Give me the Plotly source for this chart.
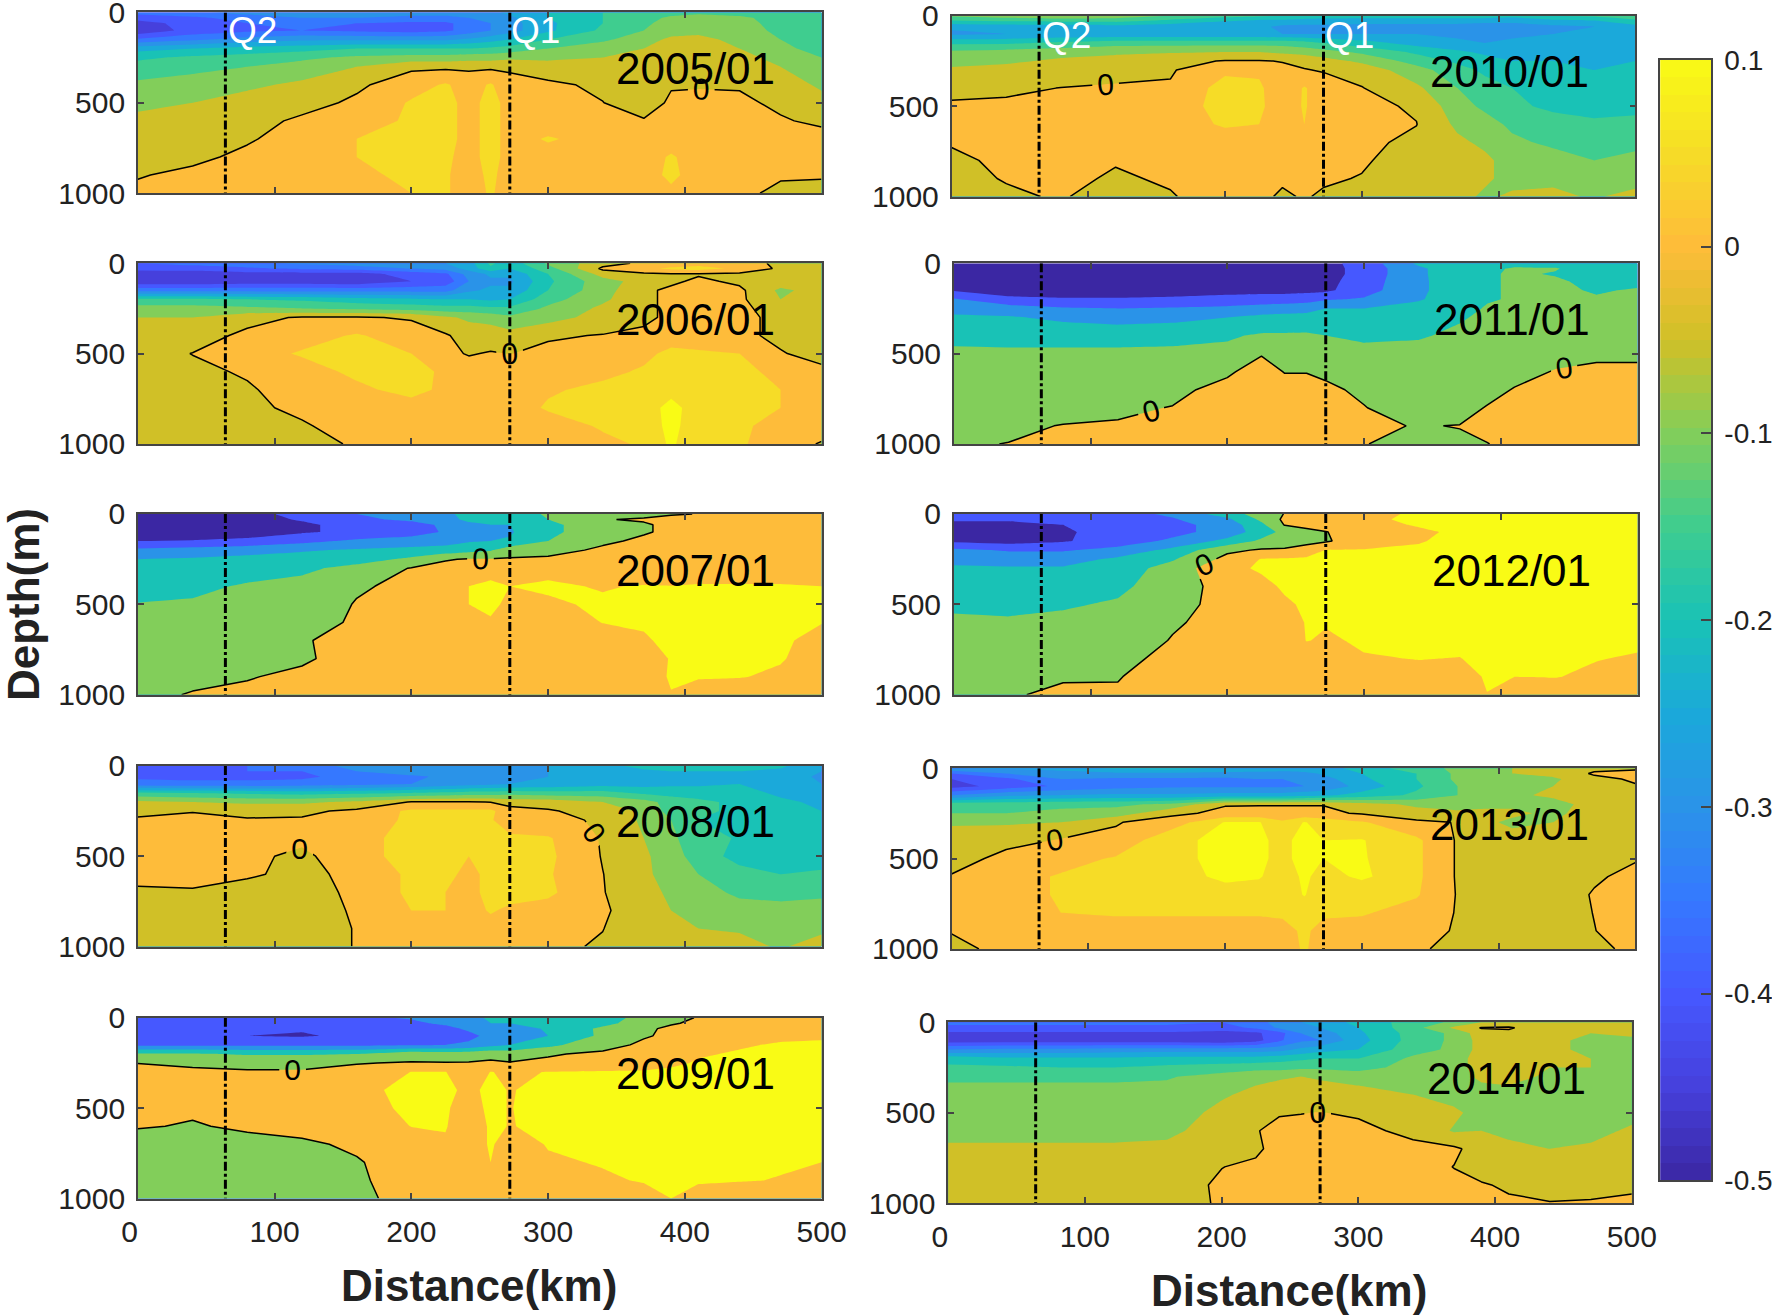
import numpy as np
import plotly.graph_objects as go

# section grid, km along section and depth in m
dist = [0, 40, 80, 120, 160, 200, 225, 242, 258, 272, 300, 340, 370, 390, 410, 440, 470, 500]
depth = [0, 30, 60, 100, 150, 200, 250, 300, 400, 500, 600, 700, 800, 900, 1000]

Q2_DIST = 64
Q1_DIST = 272

# anomalies, in hundredths
z_2005 = [
    [-33,-31,-28,-26,-26,-27,-27,-27,-26,-24,-20,-15,-13,-12,-11,-12,-13,-14],
    [-38,-36,-33,-30,-30,-32,-32,-30,-28,-26,-20,-15,-12,-9,-8,-9,-12,-14],
    [-42,-38,-35,-34,-35,-36,-36,-33,-30,-27,-21,-15,-11,-8,-7,-8,-12,-14],
    [-44,-38,-36,-35,-36,-37,-36,-33,-30,-27,-21,-14,-10,-7,-6,-8,-11,-14],
    [-34,-31,-28,-26,-26,-26,-26,-24,-22,-20,-15,-11,-7,-4,-4,-6,-10,-14],
    [-22,-20,-18,-17,-15,-15,-15,-15,-14,-13,-10,-7,-5,-3,-3,-5,-8,-13],
    [-16,-14,-13,-11,-9,-8,-8,-7,-7,-6,-6,-5,-4,-3,-3,-4,-6,-10],
    [-13,-12,-10,-8,-5,-1,-1,-1,-1,-1,-3,-4,-3,-3,-3,-3,-5,-8],
    [-9,-7,-6,-4,-1,3,5.5,3,5.5,2,1,-1,-2,-.5,-.3,-.5,-2,-6],
    [-6,-5,-3,-2,1,5.5,7,3,7,3,2,.1,-3,1,1,1,-1,-3],
    [-4,-3,-2,1,2,6,7,3,7,3,2,2,.5,2,2,2,.5,-1],
    [-3,-2,-.5,2,5,7,7,3,7,3,5.5,3,3,3,3,3,3,2],
    [-2,-1,1,3,5,7,6,3,7,3,3,3,3,5.5,3,4,3,2],
    [-.3,1,2,3,4,6,5.5,3,6,3,3,3,3,6,3,3,.5,.3],
    [1,2,2,3,3,5,5.5,3,5.5,3,3,3,3,4,3,1,-1,-1],
]
z_2006 = [
    [-35,-33,-31,-29,-27,-26,-25,-22,-14,-18,-9,-2,1,2,3,2,-1,-2],
    [-38,-38,-36,-34,-33,-30,-28,-23,-16,-20,-12,1,4,6,7,4,-1,-2],
    [-44,-43,-42,-42,-42,-38,-36,-28,-24,-24,-15,-3,-1,-.5,-.5,-1,-2,-2],
    [-44,-44,-43,-43,-44,-40,-38,-30,-26,-26,-16,-7,-3,-1,1,-1,-2,-2],
    [-32,-32,-32,-32,-32,-32,-32,-26,-24,-24,-15,-7,-1,1,2,1,-6,-3],
    [-14,-14,-15,-16,-18,-19,-20,-20,-21,-20,-12,-6,-1,1,2,1,-5,-2],
    [-8,-8,-9,-10,-11,-12,-13,-13,-14,-14,-9,-4,-1,1,3,1,-2,-1],
    [-5,-5,-1.5,.5,.5,-.5,-4,-6,-7,-9,-7,-3,-1,1,3,1,-1,-1],
    [-3,-2,1,3,5.5,2.5,.5,-2,-2,-3,-.5,.2,1,3,3,1,-1,-1],
    [-2,.1,3,5.5,7,5,1,-.3,.3,-.1,1,3,4,6,5.5,5,.3,-1.5],
    [-2,-1,.5,3,6,7,4,2,3,3,3,4,5.5,7,6,6,4,1],
    [-2,-2,-.5,2,4,6.5,4,3,3,3,4.5,6,7,8,7,6,5,3],
    [-2,-2,-1,1,3,3,3,3,3,3,5.5,6,7,12,7,6,5,3],
    [-2,-2,-1.5,-.5,2,3,3,3,3,3,3,5.5,6,12,6,6,3,3],
    [-2,-2,-2,-1.5,.5,3,3,3,3,3,3,4,5.5,11,5.5,5.5,3,-.5],
]
z_2007 = [
    [-46,-45,-42,-38,-30,-25,-22,-17,-15,-14,-9,-5,-3,-1,.3,1,2,2],
    [-48,-46,-44,-39,-32,-28,-23,-18,-17,-16,-10,-.5,1,3,3,3,3,3],
    [-50,-48,-46,-42,-36,-34,-28,-22,-20,-20,-12,-5,-1,2,3,3,3,3],
    [-50,-50,-46,-41,-38,-34,-29,-24,-22,-21,-12,-5,-.5,1,3,3,3,3],
    [-40,-39,-37,-33,-28,-26,-24,-21,-20,-19,-10,-1,1,2,3,3,3,3],
    [-28,-26,-24,-21,-19,-17,-16,-13,-11,-4,-2,1,2,3,3,3,3,3],
    [-20,-19,-17,-16,-14,-8,-.5,.5,.5,.8,1,2,2,3,3,3,3,3],
    [-18,-16,-14,-12,-7,.5,2,3,8,3,8,3,3,3,3,3,3,3],
    [-15,-12,-9,-7,-1,2,4,10,11,10,11,9.5,10.5,10.2,11,11,11,10],
    [-9.5,-9,-7,-5,.5,3,4,10,11,9,9,11,11,11,11,11,11,11],
    [-8,-7,-5,-3,1,3,3,3,9.5,3,3,10.3,10.5,12,12,12,12,10.2],
    [-6,-5,-3,-.5,2,3,3,3,3,3,3,3,9.5,11,12,11.5,11,8],
    [-5,-4,-2,-.7,2,3,3,3,3,3,3,3,6,10.5,12,11,10.5,7],
    [-4,-2,-.3,1,2,3,3,3,3,3,3,3,5,11,10.5,10.3,9,5],
    [-2,.5,1,2,3,3,3,3,3,3,3,3,3,9.6,7,6,5,5],
]
z_2008 = [
    [-36,-36,-35,-33,-28,-27,-27,-27,-26,-26,-25,-22,-18,-20,-19,-20,-19,-25],
    [-36,-36,-35,-35,-30,-27,-27,-27,-26,-26,-25,-22,-21,-20,-20,-20,-21,-25],
    [-36,-36,-36,-36,-33,-31,-29,-28,-27,-26,-25,-23,-21,-23,-24,-22,-22,-26],
    [-33,-34,-34,-33,-32,-30,-28,-27,-26,-25,-24,-22,-22,-21,-21,-20,-22,-25],
    [-14,-15,-16,-17,-16,-15,-14,-13,-13,-12,-13,-13,-16,-17,-17,-18,-21,-23],
    [-4,-5,-6,-6,-4,.3,.3,.3,-.1,-2,-2,-5,-8,-12,-14,-16,-19,-21],
    [-1,-.2,-1,-1,1,6,6,6,6,2,.5,-2,-6,-12,-14,-16,-18,-20],
    [.5,1,.3,.5,2,6,6,5,5.5,2,1,-.5,-6,-10,-15,-16,-18,-20],
    [2,3,3,1,3,7,7,6,6,6,5.5,-.5,-5,-9,-13,-15.5,-18,-20],
    [2,2,1,-1,3,7,7,5,7,7,6,-.3,-4,-8,-12,-17,-17,-18],
    [1,1,.5,-1,1,6,6,4,6,7,5.5,.1,-4,-7,-10,-13,-15,-14],
    [-.5,-.3,-1.5,-2,1,6,5,4,6,7,6,.2,-3,-6,-8,-11,-12,-11],
    [-2,-2,-2,-2,.5,5,5,3,5.5,4,3,.5,-2,-5,-6,-8,-8,-8],
    [-2,-2,-2,-2,.2,3,3,3,3,3,2,.1,-3,-5,-5,-5.5,-7,-6],
    [-2,-2,-2,-2,.2,3,3,3,3,3,1,-.5,-2,-4.5,-3.5,-3.5,-5.5,-3],
]
z_2009 = [
    [-36,-36,-36,-36,-32,-29,-26,-22,-19,-19,-17,-14,-7,-1.5,.3,1,1,1],
    [-37,-37,-37,-38,-36,-32,-28,-24,-20,-20,-18,-13,-5,-.5,1,4,5,6],
    [-37,-37,-38,-39,-37,-36,-33,-28,-24,-24,-19,-8,-1,1,4,6,7,8],
    [-37,-37,-40,-41,-38,-37,-35,-33,-27,-24,-20,-8,-.5,1,5,9,9,9],
    [-32,-32,-32,-32,-32,-31,-30,-28,-23,-20,-13,-2,1,3,9,9.5,10.5,11],
    [-9,-9,-11,-11,-10,-3,-5,-4,-2,-4,-.5,1,3,5,9.5,10.5,11,11],
    [-.1,-2,-3,-3,-.3,.5,.5,.5,1,.5,1,2,5,9,10.5,11,11,11],
    [2,2,1,1,2,10.2,10.2,5,10.2,9,10.2,11,11,11,11,11,11,11],
    [3,3,3,3,9,11,11,9,11,9.8,11,11,11,11,11,11,11,11],
    [3,1,3,3,8,11,10.5,8,11,9.8,12,12,12,12,12,12,12,12],
    [.5,-.5,1,2,3,10.2,10.5,5,11,9.8,11,12,12,12,12,12,12,12],
    [-3,-4,-2,-1,1,5,9,5,11,6,10.5,11.5,12,12,12,12,12,12],
    [-3,-4,-3,-2,-.5,3,3,3,10,3,9,10.5,11,11,12,11.5,10.5,10],
    [-3,-4,-3,-3,-1,3,3,3,3,3,6,9,10.5,10.5,10.5,10.3,9.8,6],
    [-3,-4,-3,-3,-2,3,3,3,3,3,3,5,7,10,8,6,6,3],
]
z_2010 = [
    [-9,-7,-6,-7,-10,-13,-14,-15,-16,-17,-17,-17,-17,-17,-18,-15,-14,-13],
    [-16,-15,-14,-14,-17,-20,-22,-22,-23,-23,-24,-24,-24,-24,-24,-22,-21,-16],
    [-24,-23,-23,-22,-23,-24,-24,-26,-26,-26,-26,-26,-26,-27,-27,-26,-25,-22],
    [-26,-25,-24,-24,-24,-24,-24,-25,-25,-25,-25,-25,-26,-27,-26,-25,-25,-23],
    [-16,-16,-14,-12,-12,-12,-12,-12,-13,-15,-18,-22,-24,-25,-24,-24,-25,-23],
    [-9,-8,-7,-6,-5.5,-5,-5,-6,-7,-8,-11,-16,-19,-21,-22,-22,-23,-22],
    [-7,-6,-4,-3,-1.5,.3,.3,-.2,-1,-3,-6,-12,-16,-18,-20,-20,-21,-20],
    [-4,-3,-3,-1.5,-.5,4,4,1,.2,-.3,-2,-8,-13,-16,-18,-20,-20,-19],
    [-1,-1,.1,.5,.5,7,6,1,5.5,2,.2,-4,-10,-13,-15,-17,-18,-17],
    [.5,1,1,1,2,7,6,2,5.5,2,1,-.5,-8,-11,-14,-16,-17,-16],
    [.5,1,1,2,3,5.5,5,2,5,2,1,.1,-6,-8,-11,-13,-14,-14],
    [.2,1,1,1,2,3,3,2,2,2,1,-1,-4,-6,-9,-11,-12,-11],
    [-.5,.5,1,.3,1,2,2,2,2,2,.5,-2,-4,-4,-7,-8,-10,-9],
    [-1,.2,1,-.5,.5,2,2,.5,.5,.5,-.2,-2,-3,-4.5,-6,-6,-6,-7],
    [-2,-.5,.3,-1.5,-.3,2,.8,-.5,.3,-.5,-1,-2,-4,-5.5,-4.5,-4,-5.5,-3.5],
]
z_2011 = [
    [-45,-45,-45,-45,-45,-45,-45,-45,-45,-43,-36,-18,-15,-14,-13,-13,-17,-17],
    [-46,-46,-46,-46,-46,-46,-46,-46,-46,-44,-36,-22,-13,-12,-9,-9.5,-14,-16],
    [-46,-46,-46,-46,-46,-46,-46,-46,-45,-44,-36,-22,-13,-11,-9,-10.5,-12,-15],
    [-46,-46,-46,-46,-46,-46,-46,-46,-45,-43,-35,-22,-14,-11,-9,-9,-12,-13],
    [-41,-44,-45,-45,-45,-44,-44,-44,-43,-42,-34,-22,-14,-11,-9,-8,-11,-9],
    [-29,-38,-39,-39,-38,-36,-34,-34,-33,-31,-29,-21,-14,-11,-9,-8,-9,-9],
    [-22,-25,-29,-30,-29,-28,-27,-26,-25,-20,-20,-16,-14,-9,-8,-8,-8,-8],
    [-19,-19,-22,-24,-23,-20,-17,-16,-15,-15,-16,-15,-11,-8,-8,-8,-8,-8],
    [-13,-14,-14,-14,-13,-11,-9,-9,-9,-10,-12,-11,-8,-8,-8,-8,-8,-8],
    [-8,-8,-8,-8,-8,-8,-.5,-7,-6,-7,-7,-7,-7,-7,-7,-3,-.5,-.5],
    [-7,-7,-6,-5,-4,-1,3,-.3,-.3,-1,-4,-5,-5,-4,-3,.5,.5,.5],
    [-6,-6,-5,-3,-1.5,2,4,3,3,1,-1,-4,-4,-3,.5,2,2,2],
    [-5,-5,-2,-1,.2,3,4,3,3,3,.2,-3,-3,.5,2,2,2,2],
    [-2,-1,.2,.5,2,3,3,3,3,3,1,-.3,.2,1,2,2,2,2],
    [-.5,.1,2,3,3,3,3,3,3,3,.1,-1,-1,-.1,1,2,2,2],
]
z_2012 = [
    [-35,-35,-35,-34,-28,-15,-5,.3,2,5,8,11,12,12,12,12,12,12],
    [-38,-38,-38,-36,-31,-22,-8,2,4,6,9,11,12,12,12,12,12,12],
    [-44,-44,-40,-36,-33,-26,-12,.5,1,2,8,10.5,12,12,12,12,12,12],
    [-46,-46,-41,-37,-33,-26,-15,-7,-1,-.2,3,9,11,12,12,12,12,12],
    [-42,-44,-41,-35,-28,-17,-8,-4,-2,-1,5,9.5,12,12,12,12,12,12],
    [-28,-31,-31,-27,-17,-2,1,1,3,10.2,10.5,11,12,12,12,12,12,12],
    [-22,-24,-24,-18,-11,3,10.5,11,12,12,12,12,12,12,12,12,12,12],
    [-19,-19,-19,-15,-6,8,11,12,12,12,12,12,12,12,12,12,12,12],
    [-15,-14,-14,-12,-5,4,8,11,12,12,12,12,12,12,12,12,12,12],
    [-11,-12,-11,-9,-3,3,6,9,11,11,12,12,12,12,12,12,12,12],
    [-9,-9,-8,-6,-1,3,3,6,10.5,10.5,12,12,12,12,12,12,12,12],
    [-7,-7,-6,-5,.5,3,3,3,10.3,9,11,12,12,12,12,12,12,11],
    [-6,-5,-4,-2,2,3,3,3,5,5,9.5,10.2,9.8,12,12,12,10.2,9.5],
    [-4,-3,-.5,-.3,3,3,3,3,3,3,5,8,8,10.5,10,10.2,9,8],
    [-3,-.5,1,.7,3,3,3,3,3,3,3,5,6,9.9,7,7,6,6],
]
z_2013 = [
    [-25,-24,-22,-19,-18,-20,-21,-21,-20,-22,-18,-12,-9,-6,-5,-3,-1,-.5],
    [-35,-30,-28,-26,-26,-27,-27,-28,-27,-24,-20,-15,-9,-5.5,-5,-3,.5,1],
    [-40,-36,-30,-31,-31,-31,-30,-30,-30,-27,-21,-15,-9,-7,-6,-6,-1,.5],
    [-42,-38,-34,-32,-31,-31,-31,-31,-30,-29,-23,-16,-10,-8,-7,-5,-2,-.3],
    [-30,-26,-25,-24,-24,-23,-23,-23,-22,-21,-18,-14,-10,-7,-6,-4,-2,-.5],
    [-12,-12,-11,-11,-9,-.3,-.2,-.2,-.2,-.2,-3,-6,-7,-6,-6,-7,-3,-2],
    [-10,-10,-9,-8,-1,1,1,1,1,1,-.5,-3,-4,-4,-4,-6,-3,-2],
    [-5.5,-5.5,-5,-.3,2,10.3,10.3,6,10.3,8,5.5,1,-.2,-4,-6,-5,-2,-1],
    [-3,-2,.5,1,9,11,11,8.5,12,10,10.3,6,-.5,-3,-3,-3,-2,-2],
    [-3,2,3,5.5,9,11,11,8.5,12,10,10.5,6,-.5,-3,-3,-3,-2,-.3],
    [.5,3,5.5,6,8,11,10.5,7,11,8,11,6,-.5,-2,-2,-2,-.5,1],
    [2,3,5.5,6,6,8,7,7,10.3,7,6,5.5,-.3,-2,-2,-2,.3,2],
    [.5,3,5,5.5,5.5,5.5,5.5,6,7,6,5.5,3,-.3,-2,-2,-2,.1,2],
    [.2,2,3,3,3,3,3,3,6,3,3,2,-.5,-2,-2,-2,-.1,2],
    [-1,1,3,3,3,3,3,3,5.5,3,3,.5,-1,-2,-2,-2,-1,1],
]
z_2014 = [
    [-34,-34,-34,-34,-34,-35,-33,-27,-25,-24,-18,-13,-9,-5,-3,-1,-3,-1],
    [-36,-36,-36,-36,-36,-37,-34,-29,-26,-25,-20,-12,-4,.3,.5,-3,-5,-3],
    [-41,-41,-41,-41,-41,-42,-41,-37,-30,-28,-21,-13,-9,-2,-1,-3,-5,-4],
    [-43,-43,-43,-43,-43,-44,-42,-36,-31,-30,-22,-13,-9,-3,-3,-4,-6,-6],
    [-30,-29,-29,-28,-28,-28,-28,-27,-24,-22,-20,-12,-9,-3,-3,-4,-6,-7],
    [-17,-19,-19,-19,-18,-18,-18,-17,-16,-15,-15,-9,-7,-3,-3,-3.5,-5,-6],
    [-14,-14,-15,-15,-14,-13,-12,-12,-11,-11,-12,-8,-7,-3,-3,-5,-5,-6],
    [-11,-11,-11,-11,-10.5,-8,-6,-5.5,-5,-5.5,-7,-7,-7,-4,-3,-6,-6,-6],
    [-8,-8,-8,-8,-8,-5.5,-4,-3,-3,-3,-3,-5,-7,-7,-7,-7,-7,-7],
    [-7,-7,-7,-7,-7,-4,-2,-.3,-.1,.1,-.5,-3,-4,-7,-7,-7,-7,-6],
    [-6,-6,-6,-6,-6,-3,-.2,1,1,1,1,-1,-5.5,-5,-5.5,-7,-6,-4.5],
    [-4.5,-4.5,-4.5,-4.5,-4,-2,-1,2,2,2,2,1,.8,-2,-4.5,-5,-4.5,-3],
    [-4,-4,-3.5,-3.5,-3,-.1,1,2,2,2,2,2,-.1,-1.5,-2.5,-3.5,-3,-2.5],
    [-3,-3,-3,-3,-2.5,.8,2,2,2,2,2,2,1,.3,-.5,-2,-2,-.5],
    [-3,-3,-3,-3,-2,.5,2,2,2,2,2,2,2,2,.5,.2,.5,.5],
]

years = ['2005/01', '2006/01', '2007/01', '2008/01', '2009/01',
         '2010/01', '2011/01', '2012/01', '2013/01', '2014/01']
fields = [z_2005, z_2006, z_2007, z_2008, z_2009, z_2010, z_2011, z_2012, z_2013, z_2014]
level_steps = [0.05, 0.05, 0.1, 0.05, 0.1, 0.05, 0.1, 0.1, 0.05, 0.05]

cbar_ticks = [0.1, 0, -0.1, -0.2, -0.3, -0.4, -0.5]
cbar_labels = ['0.1', '0', '-0.1', '-0.2', '-0.3', '-0.4', '-0.5']

# panel boxes as left/top in a 1568x1165 frame
W0, H0 = 1568, 1165
lefts = [122, 122, 122, 122, 122, 842, 844, 844, 842, 839]
tops = [11, 233, 455, 678, 901, 14, 233, 455, 680, 905]
PANEL_W, PANEL_H = 605, 160

# the bands in the panels take the colour of their lower bound
band_colors = [
    (-0.5, '#3B27A3'), (-0.45, '#4640DC'), (-0.4, '#4658FF'), (-0.35, '#3578FF'),
    (-0.3, '#2A93E8'), (-0.25, '#1BA9DA'), (-0.2, '#19C2B6'), (-0.15, '#3FCD8F'),
    (-0.1, '#82CE5A'), (-0.05, '#D0C027'), (0.0, '#FEBC3A'), (0.05, '#F6DC27'), (0.1, '#F9FB15'),
]
colorscale = [[(v + 0.5) / 0.6, c] for v, c in band_colors]

TICK_FONT = dict(family='Liberation Sans', size=30, color='#222222')

fig = go.Figure()
layout_axes = {}
annotations = []

for i, (label, z_raw, step) in enumerate(zip(years, fields, level_steps)):
    n = i + 1
    xname, yname = f'x{n}', f'y{n}'
    z = np.array(z_raw, dtype=float) / 100
    start = -0.5 + step

    fig.add_trace(go.Contour(
        x=dist, y=depth, z=z, xaxis=xname, yaxis=yname,
        colorscale=colorscale, showscale=False, hoverinfo='skip',
        contours=dict(coloring='fill', start=start, end=0.1001, size=step, showlines=False),
        line=dict(width=0, smoothing=0),
    ))
    fig.add_trace(go.Contour(
        x=dist, y=depth, z=z, xaxis=xname, yaxis=yname,
        showscale=False, hoverinfo='skip',
        contours=dict(coloring='none', start=0, end=0.001, size=1, showlabels=True,
                      labelfont=dict(family='Liberation Sans', size=30, color='black')),
        line=dict(color='black', width=1.5, smoothing=0),
    ))
    for q in (Q2_DIST, Q1_DIST):
        fig.add_trace(go.Scatter(
            x=[q, q], y=[0, 1000], xaxis=xname, yaxis=yname, mode='lines',
            line=dict(color='black', width=3, dash='dashdot'),
            showlegend=False, hoverinfo='skip',
        ))

    bottom_row = i in (4, 9)
    common = dict(showline=True, linecolor='#444444', linewidth=1.5, mirror='ticks',
                  ticks='inside', ticklen=6, tickcolor='#444444', tickwidth=1.5,
                  showgrid=False, zeroline=False, tickfont=TICK_FONT, ticklabeloverflow='allow')
    layout_axes[f'xaxis{n}'] = dict(
        domain=[lefts[i] / W0, (lefts[i] + PANEL_W) / W0], anchor=yname, range=[0, 500],
        tickvals=[0, 100, 200, 300, 400, 500],
        ticktext=['0\u00a0\u00a0', '100', '200', '300', '400', '500'],
        showticklabels=bottom_row, ticklabelstandoff=6, **common)
    layout_axes[f'yaxis{n}'] = dict(
        domain=[1 - (tops[i] + PANEL_H) / H0, 1 - tops[i] / H0], anchor=xname, range=[1000, 0],
        tickvals=[0, 500, 1000], ticklabelstandoff=5, **common)

    annotations.append(dict(xref=xname, yref=yname, x=408, y=310, text=label, showarrow=False,
                            xanchor='center', yanchor='middle',
                            font=dict(family='Liberation Sans', size=44, color='black')))

# Q labels on the two top panels
for n, q_y in ((1, 100), (6, 107)):
    for name, q_x in (('Q2', 84), ('Q1', 291)):
        annotations.append(dict(xref=f'x{n}', yref=f'y{n}', x=q_x, y=q_y, text=name, showarrow=False,
                                xanchor='center', yanchor='middle',
                                font=dict(family='Liberation Sans', size=37, color='white')))

for title_x, title_y in ((424, 1138), (1141, 1142)):
    annotations.append(dict(xref='paper', yref='paper', x=title_x / W0, y=1 - title_y / H0,
                            text='<b>Distance(km)</b>', showarrow=False,
                            xanchor='center', yanchor='middle',
                            font=dict(family='Liberation Sans', size=44, color='#222222')))
annotations.append(dict(xref='paper', yref='paper', x=21 / W0, y=1 - 535 / H0, text='<b>Depth(m)</b>',
                        showarrow=False, textangle=-90, xanchor='center', yanchor='middle',
                        font=dict(family='Liberation Sans', size=44, color='#222222')))

# colour bar as its own narrow axes, 64 steps like the original colormap
cbar_edges = np.linspace(-0.5, 0.1, 65)
cbar_levels = (cbar_edges[:-1] + cbar_edges[1:]) / 2
fig.add_trace(go.Heatmap(
    x=[0], y=cbar_levels, z=[[v] for v in cbar_levels], xaxis='x11', yaxis='y11',
    colorscale=colorscale, zmin=-0.5, zmax=0.1, showscale=False, hoverinfo='skip',
))
layout_axes['xaxis11'] = dict(domain=[1469 / W0, 1514 / W0], anchor='y11', range=[-0.5, 0.5],
                              showticklabels=False, ticks='', showgrid=False, zeroline=False,
                              showline=True, linecolor='#444444', linewidth=1.5, mirror=True)
layout_axes['yaxis11'] = dict(domain=[1 - 1045 / H0, 1 - 53 / H0], anchor='x11', side='right',
                              range=[-0.5, 0.1], tickvals=cbar_ticks, ticktext=cbar_labels,
                              ticks='inside', ticklen=10, tickcolor='#444444', tickwidth=1.5,
                              ticklabelstandoff=6, showgrid=False, zeroline=False,
                              showline=True, linecolor='#444444', linewidth=1.5, mirror=True,
                              ticklabeloverflow='allow',
                              tickfont=dict(family='Liberation Sans', size=28, color='#222222'))

fig.update_layout(
    width=1772, height=1316, margin=dict(l=0, r=0, t=0, b=0, autoexpand=False),
    paper_bgcolor='white', plot_bgcolor='white', showlegend=False,
    annotations=annotations, **layout_axes,
)

# the page's default body margin would push the figure off the window
fig.write_html('out.html', config={'displayModeBar': False},
               post_script="document.body.style.margin='0';")
